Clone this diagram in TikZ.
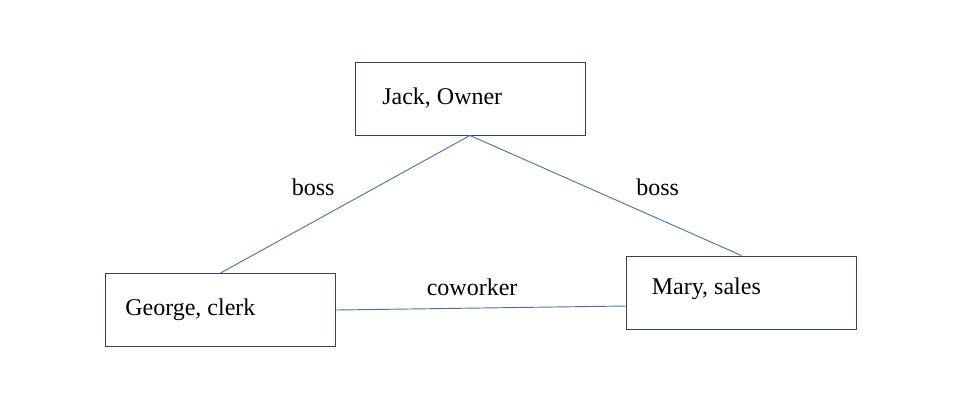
\documentclass[tikz,border=0pt]{standalone}
\usepackage{fontspec}
\setmainfont{Liberation Serif}
\usepackage{tikz}
\usetikzlibrary{calc}
\definecolor{bord}{RGB}{52,66,90}
\definecolor{lien}{RGB}{78,114,170}

\begin{document}
\begin{tikzpicture}[x=0.75pt,y=-0.75pt,
    boite/.style={draw=bord,line width=0.7pt,minimum width=230*0.75pt,
      minimum height=73*0.75pt,inner sep=0pt},
    texte/.style={font=\fontsize{18}{21}\selectfont,inner sep=0pt,anchor=base west},
    arete/.style={draw=lien,line width=0.7pt}]
  \useasboundingbox (0,0) rectangle (955,405);
  % Boites.
  \node[boite] (jack) at (470,98.5) {};
  \node[boite] (george) at (220.5,310) {};
  \node[boite] (mary) at (741.5,292.5) {};
  \node[texte] (jackt) at (382,104) {Jack, Owner};
  \node[texte] (georget) at (125,315) {George, clerk};
  \node[texte] (maryt) at (651.5,294) {Mary, sales};

  % Liens.
  \coordinate (maryw) at ($(mary.west)+(0,13.5)$);
  \draw[arete] (jack.south) -- (george.north);
  \draw[arete] (jack.south) -- (mary.north);
  \draw[arete] (george.east) -- (maryw);
  \node[texte] (boss1) at (291.5,195) {boss};
  \node[texte] (boss2) at (636,195) {boss};
  \node[texte] (cowork) at (426.5,295) {coworker};
\end{tikzpicture}
\end{document}
